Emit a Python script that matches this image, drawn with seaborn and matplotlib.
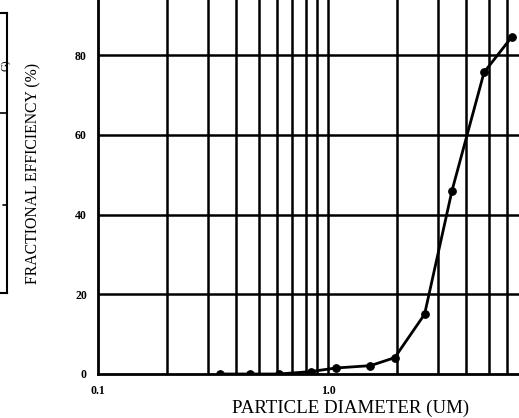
import numpy as np
import pandas as pd
import seaborn as sns
import matplotlib.pyplot as plt

# particle diameter (um) and fractional efficiency (%)
diameter = [0.34, 0.46, 0.61, 0.84, 1.08, 1.53, 1.95, 2.63, 3.46, 4.77, 6.3]
efficiency = [0.0, 0.0, 0.0, 0.6, 1.5, 2.1, 4.1, 15.0, 46.0, 75.7, 84.6]

y_ticks = [0, 20, 40, 60, 80]
x_ticks = [0.1, 1.0]
x_tick_labels = ['0.1', '1.0']

df = pd.DataFrame({'diameter': diameter, 'efficiency': efficiency})

sns.set_style('white')
plt.rcParams['font.family'] = ['Liberation Serif', 'DejaVu Serif']

W, H = 519, 418
fig = plt.figure(figsize=(W / 100, H / 100), dpi=100)

# main axes runs past the top and right edge of the picture (cropped scan)
ax = fig.add_axes([98 / W, 44 / H, 460 / W, 398.5 / H])
ax.set_xscale('log')
ax.set_xlim(0.1, 10)
ax.set_ylim(0, 100)

# grid like graph paper
for v in list(np.arange(0.2, 1.0, 0.1)) + [1.0] + list(range(2, 10)):
    ax.axvline(v, color='black', lw=1.8, zorder=1)
for v in y_ticks[1:]:
    ax.axhline(v, color='black', lw=1.8, zorder=1)

sns.lineplot(data=df, x='diameter', y='efficiency', ax=ax, color='black',
             lw=2, marker='o', markersize=5.5, markeredgecolor='black', zorder=3)

for s in ax.spines.values():
    s.set_color('black')
    s.set_linewidth(2)

ax.set_xticks(x_ticks)
ax.set_xticklabels(x_tick_labels)
ax.xaxis.set_minor_locator(plt.NullLocator())
ax.set_yticks(y_ticks)
ax.tick_params(axis='both', length=0, labelsize=8.5, colors='black')
ax.tick_params(axis='y', pad=8)
ax.tick_params(axis='x', pad=8)
for lab in ax.get_xticklabels() + ax.get_yticklabels():
    lab.set_fontweight('bold')

ax.set_xlabel('PARTICLE DIAMETER (UM)', fontsize=13.6, color='black')
ax.xaxis.set_label_coords(0.55, -0.064)
ax.set_ylabel('FRACTIONAL EFFICIENCY (%)', fontsize=11.3, color='black')
ax.yaxis.set_label_coords(-0.122, 0.504)

# edge of the neighbouring chart at the far left
ax2 = fig.add_axes([-50 / W, (H - 293) / H, 57 / W, 280 / H])
ax2.set_xlim(0, 1)
ax2.set_ylim(0, 1)
ax2.set_xticks([])
ax2.set_yticks([])
for s in ax2.spines.values():
    s.set_color('black')
    s.set_linewidth(1.5)
ax2.axhline((293 - 113) / 280, xmin=0.85, xmax=1, color='black', lw=1.2)
ax2.axhline((293 - 205) / 280, xmin=0.93, xmax=1, color='black', lw=1.2)
fig.text(0.5 / W, 1 - 65 / H, 'G)', rotation=90, fontsize=8,
         ha='left', va='center', color='black')

fig.savefig('out.png', dpi=100)
